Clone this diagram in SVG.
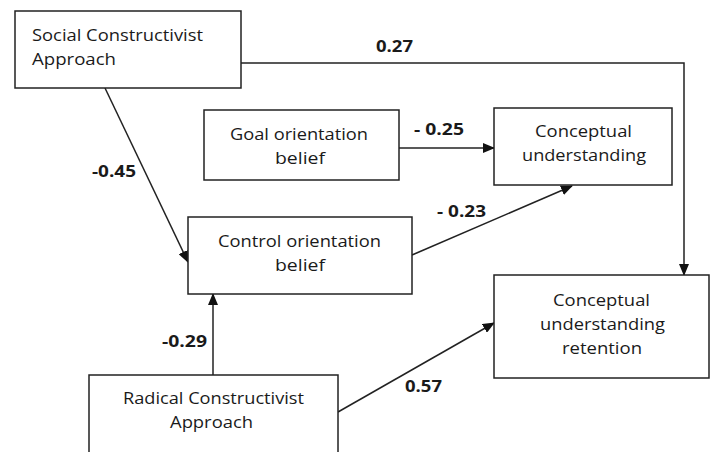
<svg xmlns="http://www.w3.org/2000/svg" width="713" height="452" viewBox="0 0 713 452">
<style>
.box{fill:#fff;stroke:#222;stroke-width:1.5}
.t{font-family:"Open Sans","Liberation Sans",Arial,sans-serif;font-size:16px;fill:#1a1a1a}
.lbl{font-family:"Open Sans","Liberation Sans",Arial,sans-serif;font-size:15.5px;font-weight:bold;fill:#1a1a1a}
.ln{fill:none;stroke:#222;stroke-width:1.5;marker-end:url(#ah)}
</style>
<defs>
<marker id="ah" markerWidth="12" markerHeight="10" refX="11" refY="5" orient="auto" markerUnits="userSpaceOnUse">
<path d="M0,0 L12,5 L0,10 Z" fill="#111"/>
</marker>
</defs>
<rect width="713" height="452" fill="#fff"/>
<g id="connectors">
<polyline class="ln" points="241,63 684,63 684,275"/>
<line class="ln" x1="105" y1="88" x2="188" y2="262"/>
<line class="ln" x1="399" y1="148" x2="494" y2="148"/>
<line class="ln" x1="412" y1="255" x2="572" y2="186"/>
<line class="ln" x1="213" y1="375" x2="213" y2="294"/>
<line class="ln" x1="338" y1="412" x2="494" y2="323"/>
<text class="lbl" x="376" y="52" textLength="37" lengthAdjust="spacingAndGlyphs">0.27</text>
<text class="lbl" x="92" y="177" textLength="44" lengthAdjust="spacingAndGlyphs">-0.45</text>
<text class="lbl" x="414" y="135" textLength="50" lengthAdjust="spacingAndGlyphs">- 0.25</text>
<text class="lbl" x="437" y="217" textLength="49" lengthAdjust="spacingAndGlyphs">- 0.23</text>
<text class="lbl" x="162" y="347" textLength="45" lengthAdjust="spacingAndGlyphs">-0.29</text>
<text class="lbl" x="405" y="392" textLength="37" lengthAdjust="spacingAndGlyphs">0.57</text>
</g>
<g id="social">
<rect class="box" x="15" y="11" width="226" height="77"/>
<text class="t" x="32" y="40.5" textLength="171" lengthAdjust="spacingAndGlyphs">Social Constructivist</text>
<text class="t" x="32" y="64.5" textLength="84" lengthAdjust="spacingAndGlyphs">Approach</text>
</g>
<g id="goal">
<rect class="box" x="204" y="110" width="195" height="70"/>
<text class="t" x="230" y="140" textLength="138" lengthAdjust="spacingAndGlyphs">Goal orientation</text>
<text class="t" x="275" y="164" textLength="50" lengthAdjust="spacingAndGlyphs">belief</text>
</g>
<g id="cu">
<rect class="box" x="494" y="108" width="178" height="77"/>
<text class="t" x="535" y="137" textLength="97" lengthAdjust="spacingAndGlyphs">Conceptual</text>
<text class="t" x="522" y="161" textLength="124" lengthAdjust="spacingAndGlyphs">understanding</text>
</g>
<g id="control">
<rect class="box" x="188" y="217" width="224" height="77"/>
<text class="t" x="218" y="247" textLength="163" lengthAdjust="spacingAndGlyphs">Control orientation</text>
<text class="t" x="275" y="270.5" textLength="50" lengthAdjust="spacingAndGlyphs">belief</text>
</g>
<g id="cur">
<rect class="box" x="494" y="275" width="215" height="103"/>
<text class="t" x="553" y="306" textLength="97" lengthAdjust="spacingAndGlyphs">Conceptual</text>
<text class="t" x="540" y="330" textLength="125" lengthAdjust="spacingAndGlyphs">understanding</text>
<text class="t" x="562" y="354" textLength="80" lengthAdjust="spacingAndGlyphs">retention</text>
</g>
<g id="radical">
<rect class="box" x="89" y="375" width="249" height="82"/>
<text class="t" x="123" y="404" textLength="181" lengthAdjust="spacingAndGlyphs">Radical Constructivist</text>
<text class="t" x="170" y="428" textLength="83" lengthAdjust="spacingAndGlyphs">Approach</text>
</g>
</svg>
